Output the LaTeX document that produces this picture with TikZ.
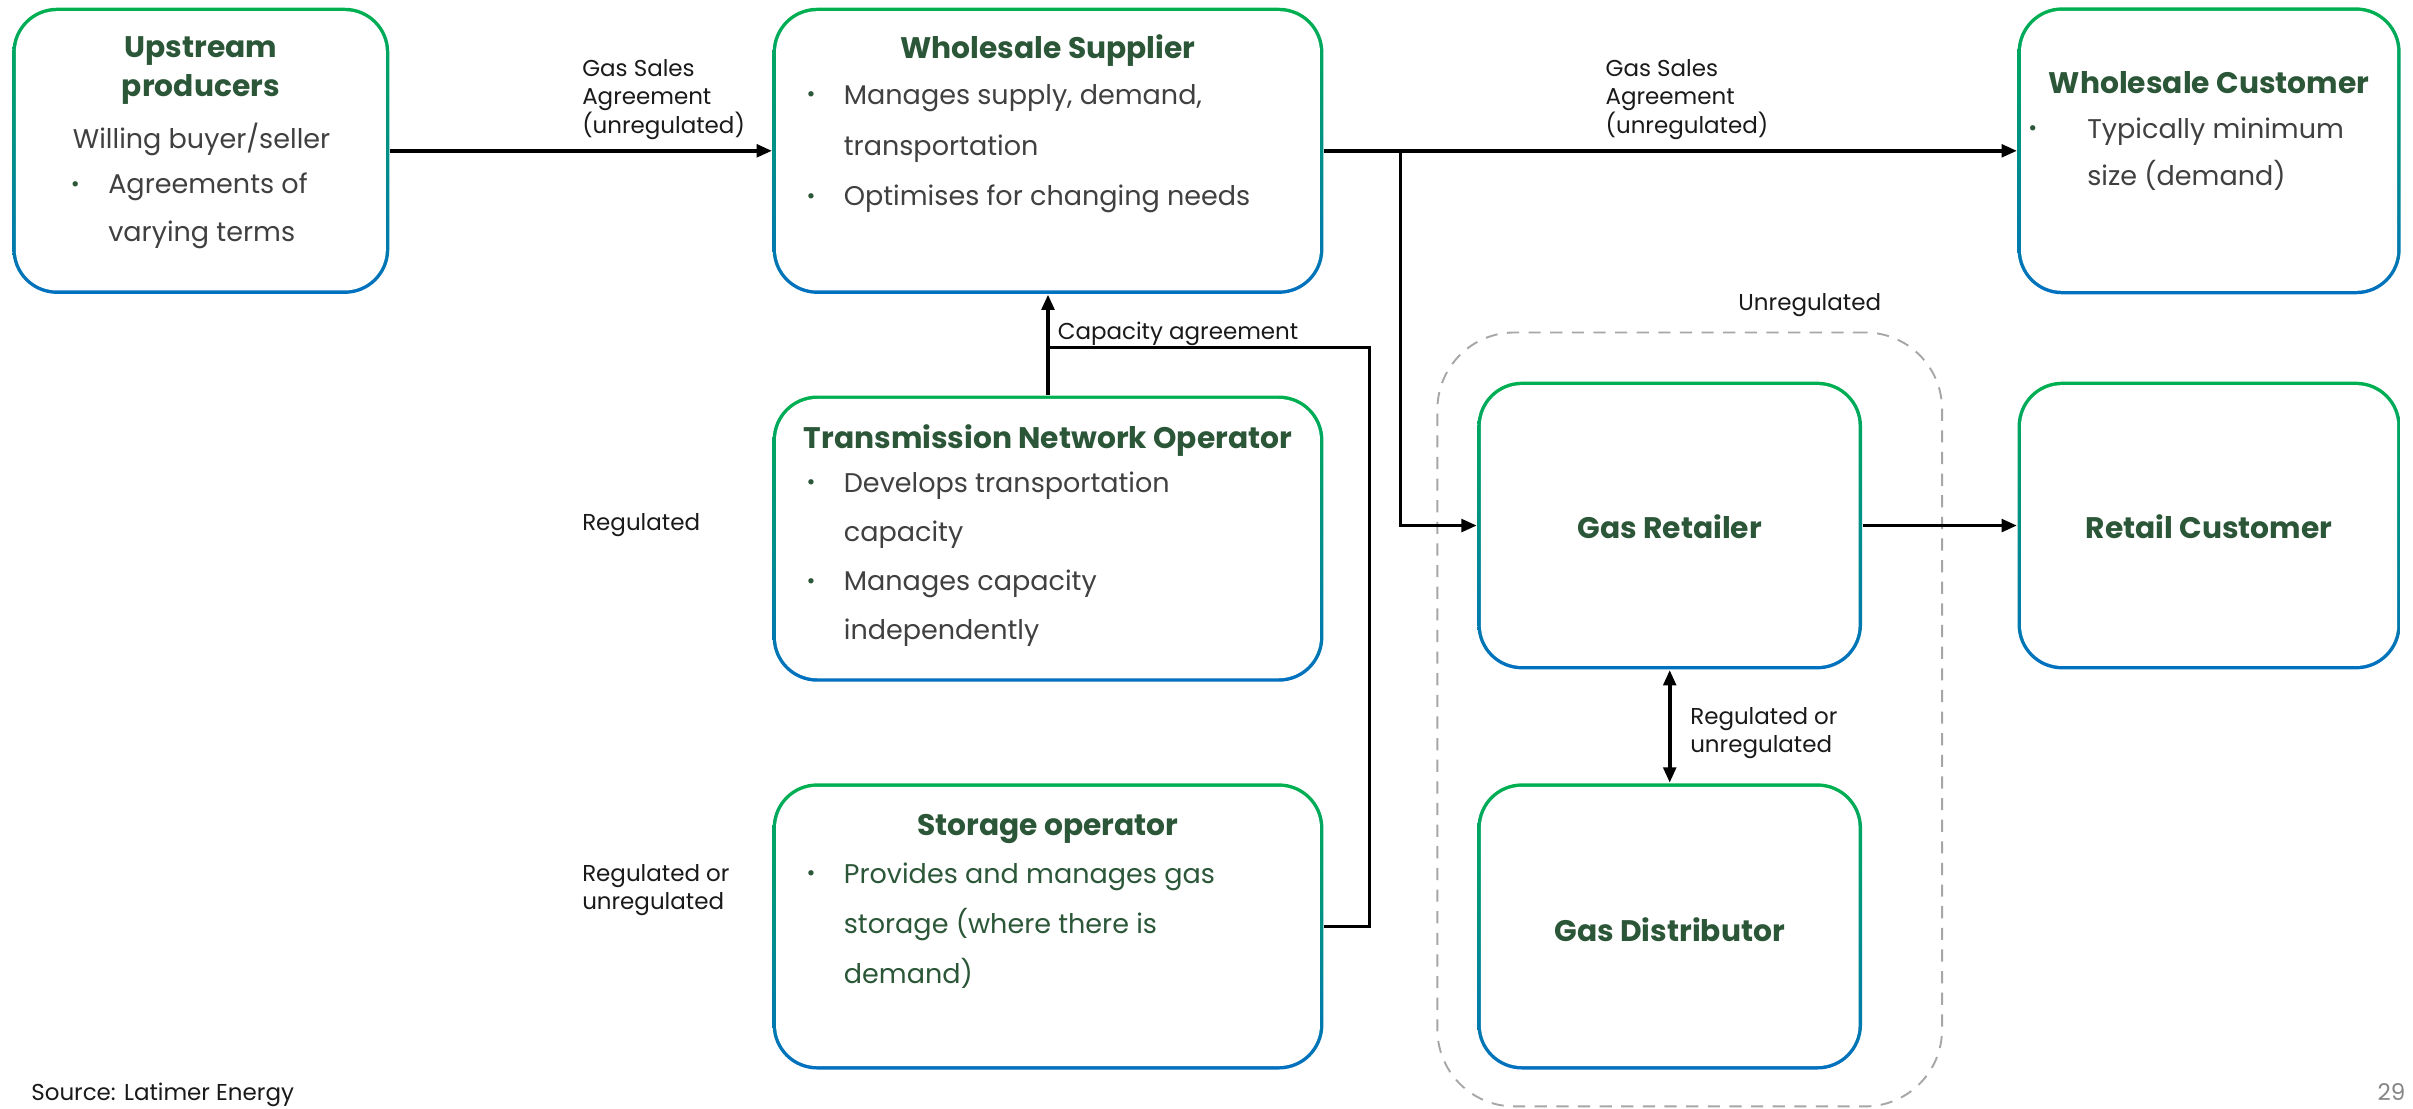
\documentclass[tikz,border=0pt]{standalone}
\usepackage{fontspec}
\setmainfont{Poppins}
\usetikzlibrary{arrows.meta}
\definecolor{tgreen}{HTML}{2B5738}
\definecolor{bgray}{HTML}{404040}
\definecolor{gtop}{HTML}{00B050}
\definecolor{gbot}{HTML}{0070C0}
\definecolor{dgray}{HTML}{A6A6A6}
\definecolor{lblack}{HTML}{1A1A1A}
\tikzset{
  box/.style={rectangle, rounded corners=0.58cm, top color=gtop, bottom color=gbot, inner sep=0pt,
    path picture={\fill[white, rounded corners=0.535cm]
      ([shift={(0.045cm,0.045cm)}]path picture bounding box.south west) rectangle
      ([shift={(-0.045cm,-0.045cm)}]path picture bounding box.north east);}},
  wbox/.style={box, minimum width=7.16cm, minimum height=3.72cm},
  nbox/.style={box, minimum width=4.98cm, minimum height=3.73cm},
  region/.style={draw=dgray, dashed, dash pattern=on 4.5pt off 3.5pt, line width=0.7pt, rounded corners=1cm, minimum width=6.56cm, minimum height=10.06cm, inner sep=0pt},
  ttl/.style={font=\fontsize{11}{13}\selectfont\bfseries, text=tgreen, inner sep=0pt},
  bd/.style={font=\fontsize{10}{12}\selectfont, text=bgray, inner sep=0pt, anchor=mid west},
  bdg/.style={bd, text=tgreen},
  bul/.style={font=\fontsize{8}{9}\selectfont, text=tgreen, inner sep=0pt},
  lbl/.style={font=\fontsize{8.5}{10.2}\selectfont, text=lblack, inner sep=0pt, anchor=mid west},
  conn/.style={line width=1.4pt, -{Triangle[length=5.7pt,width=4.6pt]}},
  dconn/.style={line width=1.4pt, {Triangle[length=5.7pt,width=4.6pt]}-{Triangle[length=5.7pt,width=4.6pt]}},
  tconn/.style={line width=1.1pt},
}
\begin{document}
\begin{tikzpicture}[x=0.02cm, y=-0.02cm]
\useasboundingbox (0,0) rectangle (1568,720.6);
\fill[white] (0,0) rectangle (1568,720.6);

% unregulated region
\node[region] (ureg) at (1098,467.5) {};
\node[lbl, anchor=center] (uregl) at (1176,198) {Unregulated};

% boxes
\node[box, minimum width=4.9cm, minimum height=3.72cm] (up) at (130.5,98) {};
\node[wbox] (ws) at (681,98) {};
\node[nbox] (wc) at (1435.5,98) {};
\node[wbox] (tno) at (681,350) {};
\node[wbox] (so) at (681,602) {};
\node[box, minimum width=5cm, minimum height=3.74cm] (gr) at (1085,341.5) {};
\node[box, minimum width=5cm, minimum height=3.72cm] (gd) at (1085,602) {};
\node[nbox, minimum height=3.74cm] (rc) at (1435.5,341.5) {};

% Upstream producers
\node[ttl] (upt1) at (130.5,33) {Upstream};
\node[ttl] (upt2) at (130.5,58) {producers};
\node[bd, anchor=mid] (upb0) at (131,92) {Willing buyer/seller};
\node[bul] (upd1) at (49,121) {•};
\node[bd] (upb1) at (70,121) {Agreements of};
\node[bd] (upb2) at (70,152) {varying terms};

% Wholesale Supplier
\node[ttl] (wst) at (681,33) {Wholesale Supplier};
\node[bul] (wsd1) at (527,63) {•};
\node[bd] (wsb1) at (548,63) {Manages supply, demand,};
\node[bd] (wsb2) at (548,96) {transportation};
\node[bul] (wsd2) at (527,129) {•};
\node[bd] (wsb3) at (548,129) {Optimises for changing needs};

% Wholesale Customer
\node[ttl] (wct) at (1435.5,54) {Wholesale Customer};
\node[bul] (wcd1) at (1321,85) {•};
\node[bd] (wcb1) at (1356,85) {Typically minimum};
\node[bd] (wcb2) at (1356,116) {size (demand)};

% Transmission Network Operator
\node[ttl] (tnot) at (681,286) {Transmission Network Operator};
\node[bul] (tnod1) at (527,315) {•};
\node[bd] (tnob1) at (548,315) {Develops transportation};
\node[bd] (tnob2) at (548,347) {capacity};
\node[bul] (tnod2) at (527,379) {•};
\node[bd] (tnob3) at (548,379) {Manages capacity};
\node[bd] (tnob4) at (548,411) {independently};

% Storage operator
\node[ttl] (sot) at (681,539) {Storage operator};
\node[bul] (sod1) at (527,569) {•};
\node[bdg] (sob1) at (548,569) {Provides and manages gas};
\node[bdg] (sob2) at (548,602) {storage (where there is};
\node[bdg] (sob3) at (548,634) {demand)};

% single-title boxes
\node[ttl] (grt) at (1085,342) {Gas Retailer};
\node[ttl] (gdt) at (1085,604) {Gas Distributor};
\node[ttl] (rct) at (1435.5,342) {Retail Customer};

% labels
\node[lbl] (l1a) at (378,45) {Gas Sales};
\node[lbl] (l1b) at (378,63) {Agreement};
\node[lbl] (l1c) at (378,82) {(unregulated)};
\node[lbl] (l2a) at (1043,45) {Gas Sales};
\node[lbl] (l2b) at (1043,63) {Agreement};
\node[lbl] (l2c) at (1043,82) {(unregulated)};
\node[lbl] (cap) at (687,216) {Capacity agreement};
\node[lbl] (reg) at (378,340) {Regulated};
\node[lbl] (rou1) at (378,568) {Regulated or};
\node[lbl] (rou2) at (378,586) {unregulated};
\node[lbl] (rou3) at (1098,466) {Regulated or};
\node[lbl] (rou4) at (1098,484) {unregulated};
\node[lbl] (src) at (20,710) {Source: Latimer Energy};
\node[lbl, anchor=mid, text=dgray!80!black] (pg) at (1554,710) {29};

% connectors
\coordinate (br) at (910,98);
\coordinate (cj) at (681,226);
\coordinate (sk) at (890,226);
\draw[conn] (up.east) -- (ws.west);
\draw[conn] (ws.east) -- (wc.west);
\draw[conn] (br) |- (gr.west);
\draw[conn] (tno.north) -- (ws.south);
\draw[tconn] (so.east) -| (sk) -- (cj);
\draw[conn] (gr.east) -- (rc.west);
\draw[dconn] (gr.south) -- (gd.north);
\end{tikzpicture}
\end{document}
